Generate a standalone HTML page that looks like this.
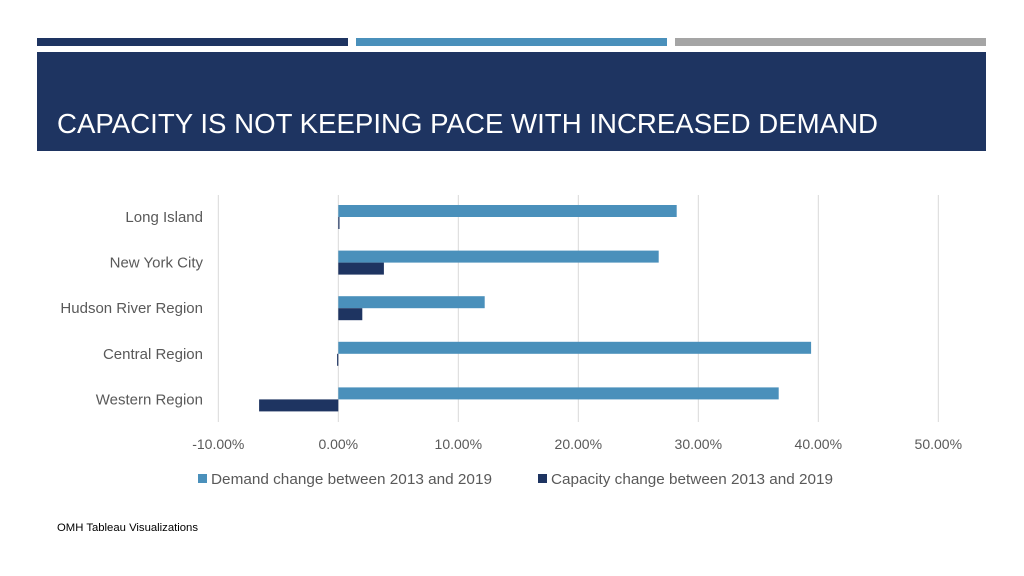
<!DOCTYPE html>
<html><head><meta charset="utf-8"><style>
html,body{margin:0;padding:0;background:#fff;}
svg{display:block;font-family:"Liberation Sans",sans-serif;}
</style></head><body>
<svg id="chart" width="1024" height="576" viewBox="0 0 1024 576">
<rect x="37" y="38" width="311" height="8" fill="#1e3461"/>
<rect x="356" y="38" width="311" height="8" fill="#4a90bb"/>
<rect x="675" y="38" width="311" height="8" fill="#a5a5a5"/>
<rect x="37" y="52" width="949" height="99" fill="#1e3461"/>
<text x="57" y="133" fill="#fff" font-size="28" textLength="821" lengthAdjust="spacingAndGlyphs">CAPACITY IS NOT KEEPING PACE WITH INCREASED DEMAND</text>
<g id="grid"></g><g id="bars"></g><g id="labels"></g>
<rect x="198" y="474" width="9" height="9" fill="#4a90bb"/>
<text x="211" y="484" font-size="15" fill="#595959" textLength="281" lengthAdjust="spacingAndGlyphs">Demand change between 2013 and 2019</text>
<rect x="538" y="474" width="9" height="9" fill="#1e3461"/>
<text x="551" y="484" font-size="15" fill="#595959" textLength="282" lengthAdjust="spacingAndGlyphs">Capacity change between 2013 and 2019</text>
<text x="57" y="531" font-size="11" fill="#000" textLength="141" lengthAdjust="spacingAndGlyphs">OMH Tableau Visualizations</text>
</svg>
<script>
const categories=["Long Island","New York City","Hudson River Region","Central Region","Western Region"];
const demand=[28.2,26.7,12.2,39.4,36.7];
const capacity=[0.1,3.8,2.0,-0.1,-6.6];
const ticks=[-10,0,10,20,30,40,50];
const tickLabels=["-10.00%","0.00%","10.00%","20.00%","30.00%","40.00%","50.00%"];
const NS="http://www.w3.org/2000/svg";
const x=v=>338.3+v*12;
const bandTop=194.2, bandH=45.6;
function mk(t,a,p){const e=document.createElementNS(NS,t);for(const k in a)e.setAttribute(k,a[k]);document.getElementById(p).appendChild(e);return e;}
ticks.forEach((t,i)=>{
 const l=mk("line",{x1:x(t),x2:x(t),y1:195,y2:422,stroke:"#d9d9d9","stroke-width":1},"grid");
 
 
 const tx=mk("text",{x:x(t),y:449,"text-anchor":"middle","font-size":"14",fill:"#595959"},"labels");
 tx.textContent=tickLabels[i];
 
 
});
categories.forEach((c,i)=>{
 const cy=bandTop+bandH*(i+0.5);
 const d=demand[i],cp=capacity[i];
 const b1=mk("rect",{x:Math.min(x(0),x(d)),y:cy-12,width:Math.abs(x(d)-x(0)),height:12,fill:"#4a90bb"},"bars");
 
 
 const b2=mk("rect",{x:Math.min(x(0),x(cp)),y:cy,width:Math.max(1,Math.abs(x(cp)-x(0))),height:12,fill:"#1e3461"},"bars");
 
 
 const tx=mk("text",{x:203,y:cy+5,"text-anchor":"end","font-size":"15",fill:"#595959"},"labels");
 tx.textContent=c;
 
 
});
</script>
</body></html>
